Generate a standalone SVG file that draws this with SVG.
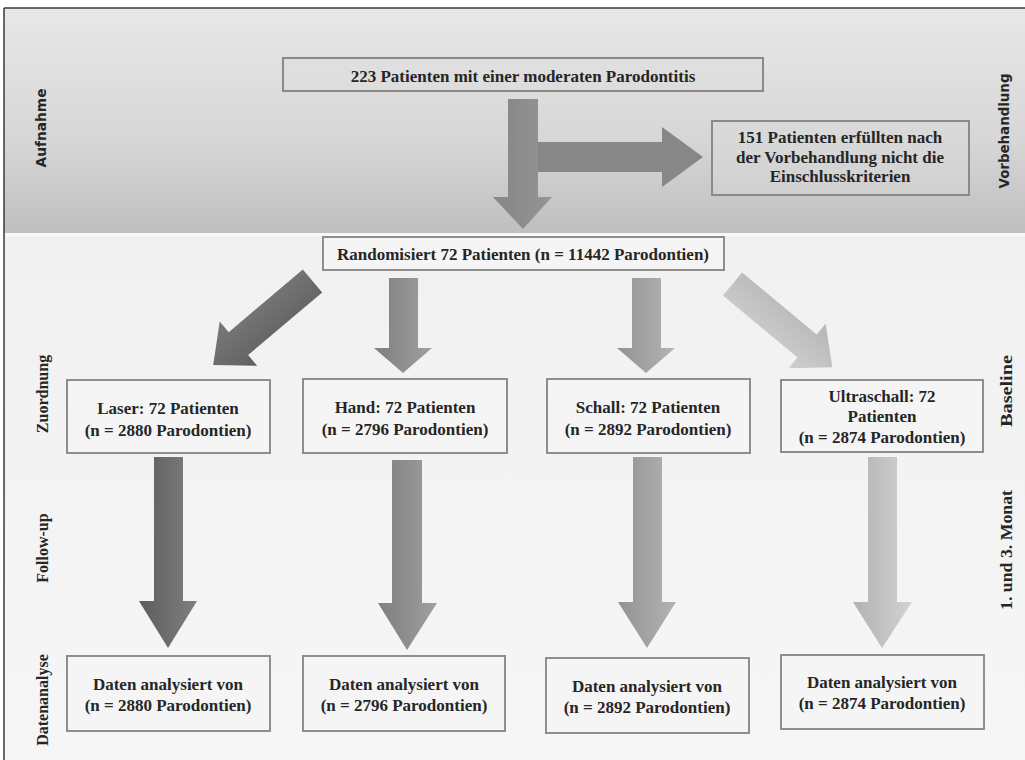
<svg xmlns="http://www.w3.org/2000/svg" width="1025" height="760" viewBox="0 0 1025 760">
<defs>
<linearGradient id="band" x1="0" y1="0" x2="0" y2="1">
<stop offset="0" stop-color="#e8e8e8"/><stop offset="0.6" stop-color="#d6d6d6"/><stop offset="1" stop-color="#bfbfbf"/>
</linearGradient>
<linearGradient id="low" x1="0" y1="0" x2="0" y2="1">
<stop offset="0" stop-color="#f1f1f1"/><stop offset="1" stop-color="#f6f6f6"/>
</linearGradient>
<linearGradient id="gTop" x1="0" y1="0" x2="1" y2="0">
<stop offset="0" stop-color="#858585"/><stop offset="1" stop-color="#959595"/>
</linearGradient>
<linearGradient id="g1" x1="0" y1="0" x2="1" y2="0">
<stop offset="0" stop-color="#5c5c5c"/><stop offset="1" stop-color="#808080"/>
</linearGradient>
<linearGradient id="g2" x1="0" y1="0" x2="1" y2="0">
<stop offset="0" stop-color="#7e7e7e"/><stop offset="1" stop-color="#a0a0a0"/>
</linearGradient>
<linearGradient id="g3" x1="0" y1="0" x2="1" y2="0">
<stop offset="0" stop-color="#929292"/><stop offset="1" stop-color="#b4b4b4"/>
</linearGradient>
<linearGradient id="g4" x1="0" y1="0" x2="1" y2="0">
<stop offset="0" stop-color="#b2b2b2"/><stop offset="1" stop-color="#d2d2d2"/>
</linearGradient>
<linearGradient id="gd1" x1="0" y1="0" x2="0" y2="1">
<stop offset="0" stop-color="#606060"/><stop offset="1" stop-color="#7a7a7a"/>
</linearGradient>
<linearGradient id="gd4" x1="0" y1="0" x2="0" y2="1">
<stop offset="0" stop-color="#b6b6b6"/><stop offset="1" stop-color="#cfcfcf"/>
</linearGradient>
<path id="diag" d="M0,-15 L97,-15 L97,-29 L130,0 L97,29 L97,15 L0,15 Z"/>
</defs>
<style>
.box{fill:#f5f5f5;stroke:#8e8e8e;stroke-width:2}
.tbox{fill:#dedede;fill-opacity:0.35;stroke:#8a8a8a;stroke-width:2}
.t{font-family:"Liberation Serif","Times New Roman",serif;font-weight:bold;font-size:17px;fill:#262626;text-anchor:middle}
.lab{font-family:"Liberation Serif","Times New Roman",serif;font-weight:bold;font-size:16px;fill:#262626;text-anchor:middle}
.labs{font-family:"DejaVu Sans",sans-serif;font-weight:bold;font-size:13.5px;fill:#262626;text-anchor:middle}
</style>
<rect x="0" y="0" width="1025" height="760" fill="#ffffff"/>
<rect x="4" y="8" width="1021" height="225" fill="url(#band)"/>
<rect x="4" y="233" width="1021" height="3" fill="#f8f8f8"/>
<rect x="4" y="236" width="1021" height="524" fill="url(#low)"/>
<line x1="4" y1="8" x2="1025" y2="8" stroke="#3a3a3a" stroke-width="1.5"/>
<line x1="4" y1="8" x2="4" y2="760" stroke="#3a3a3a" stroke-width="1.5"/>

<g id="labels">
<text class="labs" transform="translate(46,128) rotate(-90)" textLength="79" lengthAdjust="spacingAndGlyphs">Aufnahme</text>
<text class="labs" transform="translate(1009,131) rotate(-90)" textLength="115" lengthAdjust="spacingAndGlyphs">Vorbehandlung</text>
<text class="lab" transform="translate(48,394) rotate(-90)">Zuordnung</text>
<text class="lab" transform="translate(48,548) rotate(-90)">Follow-up</text>
<text class="lab" transform="translate(48,700) rotate(-90)">Datenanalyse</text>
<text class="lab" transform="translate(1012,391) rotate(-90)" textLength="72" lengthAdjust="spacingAndGlyphs">Baseline</text>
<text class="lab" transform="translate(1012,550) rotate(-90)" textLength="120" lengthAdjust="spacingAndGlyphs">1. und 3. Monat</text>
</g>

<g id="connectors">
<path d="M508,99 L538,99 L538,197 L552,197 L523,229 L493,197 L508,197 Z" fill="url(#gTop)"/>
<path d="M538,142 L662,142 L662,127 L703,157 L662,187 L662,172 L538,172 Z" fill="#878787"/>
<use href="#diag" transform="translate(312.5,281) rotate(139.8)" fill="url(#gd1)"/>
<path d="M389,278 L418,278 L418,348 L432,348 L403,373 L374,348 L389,348 Z" fill="url(#g2)"/>
<path d="M632,278 L661,278 L661,348 L675,348 L646,373 L617,348 L632,348 Z" fill="url(#g3)"/>
<use href="#diag" transform="translate(732.5,284) rotate(39.8)" fill="url(#gd4)"/>
<path d="M154,457 L183,457 L183,601 L197,601 L168,648 L139,601 L154,601 Z" fill="url(#g1)"/>
<path d="M392,460 L422,460 L422,603 L437,603 L407,650 L378,603 L392,603 Z" fill="url(#g2)"/>
<path d="M633,457 L662,457 L662,602 L676,602 L647,648 L618,602 L633,602 Z" fill="url(#g3)"/>
<path d="M868,457 L897,457 L897,602 L912,602 L882,648 L853,602 L868,602 Z" fill="url(#g4)"/>
</g>

<g id="n-start">
<rect class="tbox" x="283" y="58" width="480" height="33"/>
<text class="t" x="523" y="82">223 Patienten mit einer moderaten Parodontitis</text>
</g>
<g id="n-excluded">
<rect class="tbox" x="712" y="121" width="257" height="74"/>
<text class="t" x="840" y="143">151 Patienten erfüllten nach</text>
<text class="t" x="840" y="163">der Vorbehandlung nicht die</text>
<text class="t" x="840" y="182">Einschlusskriterien</text>
</g>
<g id="n-random">
<rect class="box" x="323" y="237" width="401" height="33"/>
<text class="t" x="523" y="260">Randomisiert 72 Patienten (n = 11442 Parodontien)</text>
</g>
<g id="n-laser">
<rect class="box" x="67" y="380" width="203" height="73"/>
<text class="t" x="168" y="414">Laser: 72 Patienten</text>
<text class="t" x="168" y="436">(n = 2880 Parodontien)</text>
</g>
<g id="n-hand">
<rect class="box" x="303" y="379" width="204" height="74"/>
<text class="t" x="405" y="413">Hand: 72 Patienten</text>
<text class="t" x="405" y="435">(n = 2796 Parodontien)</text>
</g>
<g id="n-schall">
<rect class="box" x="547" y="379" width="203" height="74"/>
<text class="t" x="648" y="413">Schall: 72 Patienten</text>
<text class="t" x="648" y="435">(n = 2892 Parodontien)</text>
</g>
<g id="n-ultra">
<rect class="box" x="781" y="380" width="202" height="72"/>
<text class="t" x="882" y="402">Ultraschall: 72</text>
<text class="t" x="882" y="422">Patienten</text>
<text class="t" x="882" y="443">(n = 2874 Parodontien)</text>
</g>
<g id="n-daten-laser">
<rect class="box" x="67" y="656" width="203" height="75"/>
<text class="t" x="168" y="690">Daten analysiert von</text>
<text class="t" x="168" y="711">(n = 2880 Parodontien)</text>
</g>
<g id="n-daten-hand">
<rect class="box" x="303" y="656" width="202" height="75"/>
<text class="t" x="404" y="690">Daten analysiert von</text>
<text class="t" x="404" y="711">(n = 2796 Parodontien)</text>
</g>
<g id="n-daten-schall">
<rect class="box" x="546" y="658" width="203" height="75"/>
<text class="t" x="647" y="692">Daten analysiert von</text>
<text class="t" x="647" y="713">(n = 2892 Parodontien)</text>
</g>
<g id="n-daten-ultra">
<rect class="box" x="781" y="655" width="203" height="74"/>
<text class="t" x="882" y="688">Daten analysiert von</text>
<text class="t" x="882" y="709">(n = 2874 Parodontien)</text>
</g>
</svg>
